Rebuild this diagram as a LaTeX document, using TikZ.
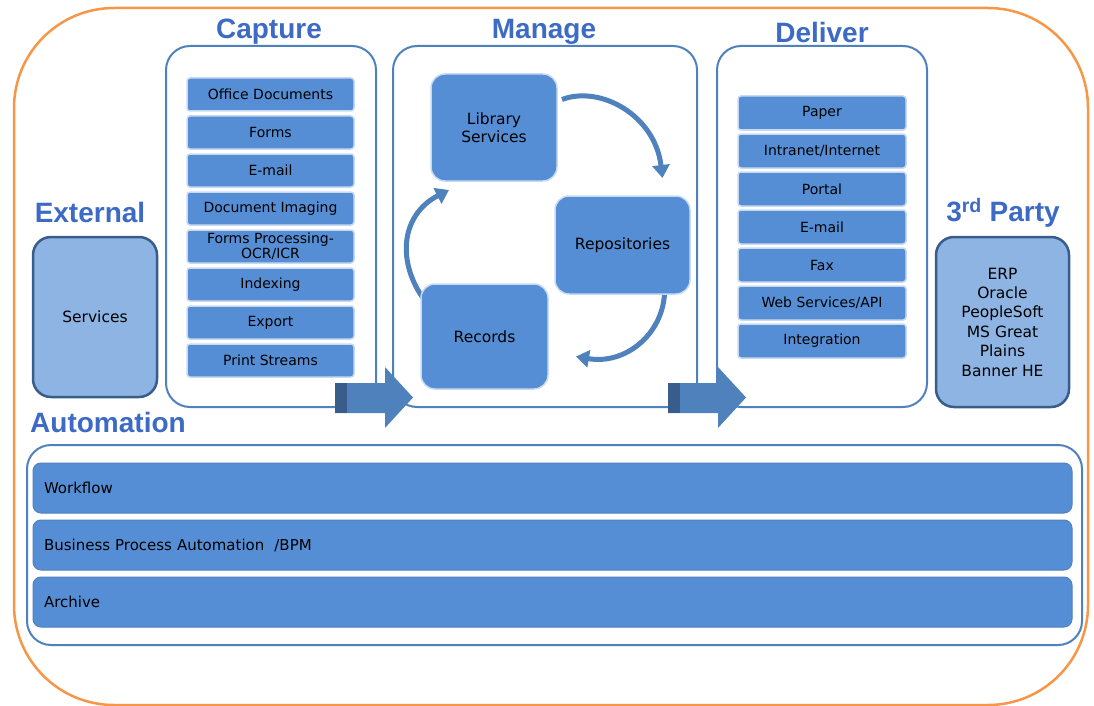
\documentclass[tikz,border=0pt]{standalone}
\usepackage{fontspec}
\setmainfont{DejaVu Sans}
\newfontfamily\headfont{Liberation Sans}
\usetikzlibrary{positioning,calc,arrows.meta}

\definecolor{frameorange}{RGB}{247,150,70}
\definecolor{panelblue}{RGB}{79,129,189}
\definecolor{itemblue}{RGB}{85,142,213}
\definecolor{itemglow}{RGB}{200,218,242}
\definecolor{paleblue}{RGB}{141,180,226}
\definecolor{deepblue}{RGB}{56,93,138}
\definecolor{headblue}{RGB}{60,106,196}

\pgfdeclarelayer{back}
\pgfdeclarelayer{mid}
\pgfsetlayers{back,mid,main}

\tikzset{
  panel/.style={draw=panelblue, line width=2pt, rounded corners=24pt, fill=white},
  item/.style={draw=itemglow, line width=1.5pt, fill=itemblue, rounded corners=3pt,
    outer sep=0pt, inner sep=1pt, align=center, font=\fontsize{14}{15}\selectfont},
  capitem/.style={item, minimum width=167pt, minimum height=33pt},
  delitem/.style={item, minimum width=168pt, minimum height=34pt},
  store/.style={item, rounded corners=14pt, font=\fontsize{15.5}{18}\selectfont},
  side/.style={draw=deepblue, line width=2.5pt, fill=paleblue, rounded corners=18pt,
    align=center, font=\fontsize{15.5}{19.4}\selectfont},
  bar/.style={draw=panelblue, line width=1pt, fill=itemblue, rounded corners=8pt,
    minimum height=50pt, text width=1017pt, inner xsep=11pt, align=left,
    outer sep=0pt, font=\fontsize{15}{18}\selectfont},
  head/.style={text=headblue, font=\headfont\bfseries\fontsize{28}{30}\selectfont},
  turn/.style={draw=panelblue, line width=5pt, -{Triangle[width=17pt,length=13pt]}},
}

\begin{document}
\begin{tikzpicture}[x=1pt, y=-1pt]

  \useasboundingbox (0,0) rectangle (1094,706);

  % outer frame and panels
  \begin{pgfonlayer}{back}
  \draw[frameorange, line width=2.5pt, rounded corners=100pt] (14,8) rectangle (1088,705);
  \node[panel, minimum width=210pt, minimum height=361pt] (capture) at (271,226.5) {} ; %
  \node[panel, minimum width=304pt, minimum height=361pt] (manage)  at (545,226.5) {} ; %
  \node[panel, minimum width=210pt, minimum height=361pt] (deliver) at (822,226.5) {} ; %
  \node[panel, minimum width=1055pt, minimum height=200pt] (auto)   at (554.5,545) {} ; %
  \end{pgfonlayer}

  % Titles
  \node[head] (capture-t) at (269,32)  {Capture} ; %
  \node[head] (manage-t)  at (544,32)  {Manage} ; %
  \node[head] (deliver-t) at (822,32)  {Deliver} ; %
  \node[head] (extern-t)  at (90,212)  {External} ; %
  \node[head] (party-t)   at (1003,213) {3\textsuperscript{rd} Party} ; %
  \node[head] (auto-t)    at (108,422) {Automation} ; %

  % External and 3rd party
  \node[side, minimum width=124pt, minimum height=160pt] (serv)  at (95,317) {Services} ; %
  \node[side, minimum width=133pt, minimum height=170pt] (party) at (1002.5,322)
    {ERP\\Oracle\\PeopleSoft\\MS Great\\Plains\\Banner HE} ; %

  % Capture items
  \node[capitem] (c1) at (270.5,94.5) {Office Documents} ; %
  \node[capitem, below=5pt of c1] (c2) {Forms} ; %
  \node[capitem, below=5pt of c2] (c3) {E-mail} ; %
  \node[capitem, below=5pt of c3] (c4) {Document Imaging} ; %
  \node[capitem, below=5pt of c4] (c5) {Forms Processing-\\OCR/ICR} ; %
  \node[capitem, below=5pt of c5] (c6) {Indexing} ; %
  \node[capitem, below=5pt of c6] (c7) {Export} ; %
  \node[capitem, below=5pt of c7] (c8) {Print Streams} ; %

  % Manage cycle
  \node[store, minimum width=126pt, minimum height=107pt] (lib)  at (494,127.5) {Library\\Services} ; %
  \node[store, minimum width=135pt, minimum height=98pt]  (repo) at (622.5,245)  {Repositories} ; %
  \node[store, minimum width=127pt, minimum height=105pt] (rec)  at (484.5,336.5) {Records} ; %

  \begin{pgfonlayer}{mid}
  \draw[turn] ($(lib.east)+(5,-28)$) .. controls (600,85) and (655,115) .. ($(repo.north)+(40,-18)$) ;
  \draw[turn] ($(repo.south)+(42,0)$) .. controls (662,335) and (625,365) .. ($(rec.east)+(28,20)$) ;
  \draw[turn] ($(rec.north west)+(8,22)$) .. controls (395,265) and (400,215) .. ($(lib.south west)+(18,9)$) ;
  \end{pgfonlayer}

  % Deliver items
  \node[delitem] (d1) at (822,113) {Paper} ; %
  \node[delitem, below=4pt of d1] (d2) {Intranet/Internet} ; %
  \node[delitem, below=4pt of d2] (d3) {Portal} ; %
  \node[delitem, below=4pt of d3] (d4) {E-mail} ; %
  \node[delitem, below=4pt of d4] (d5) {Fax} ; %
  \node[delitem, below=4pt of d5] (d6) {Web Services/API} ; %
  \node[delitem, below=4pt of d6] (d7) {Integration} ; %

  % Automation bars
  \node[bar] (b1) at (552.5,488) {Workflow} ; %
  \node[bar, below=7pt of b1] (b2) {Business Process Automation \ /BPM} ; %
  \node[bar, below=7pt of b2] (b3) {Archive} ; %

  % block arrows
  \fill[panelblue] (335,383) -- (385,383) -- (385,367) -- (413,397.5) -- (385,428) -- (385,413) -- (335,413) -- cycle;
  \fill[deepblue] (335,383) rectangle (347,413);
  \fill[panelblue] (668,383) -- (718,383) -- (718,367) -- (746,397.5) -- (718,428) -- (718,413) -- (668,413) -- cycle;
  \fill[deepblue] (668,383) rectangle (680,413);

\end{tikzpicture}
\end{document}
